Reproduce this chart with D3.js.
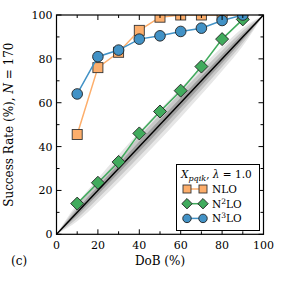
<!DOCTYPE html>
<html><head><meta charset="utf-8">
<script src="https://cdn.jsdelivr.net/npm/d3@7"></script>
<style>body{margin:0;background:#fff}svg{display:block}text{font-family:"DejaVu Serif","Liberation Serif",serif}</style>
</head><body>
<script>
const dob = [10,20,30,40,50,60,70,80,90];
const nlo = [45.5,76,83,93,99,100,100,100,100];
const n2lo = [14,23.5,33,46,56,65.5,76.5,89,98];
const n3lo = [64,81,84,89,90.5,92.5,94,97.5,100];
const bandX = [0,10,20,30,40,50,60,70,80,90,100];
const band1Half = [0,1.4,1.9,2.1,2.3,2.3,2.3,2.1,1.9,1.4,0];
const band2Half = [0,2.8,3.7,4.2,4.5,4.6,4.5,4.2,3.7,2.8,0];
const band3Half = [0,4.1,5.5,6.3,6.7,6.9,6.7,6.3,5.5,4.1,0];
const ticks = [0,20,40,60,80,100];

const W=283,H=283, L=56.5, R=263.5, T=15, B=234.3;
const svg=d3.select("body").append("svg").attr("width",W).attr("height",H);
const x=d3.scaleLinear().domain([0,100]).range([L,R]);
const y=d3.scaleLinear().domain([0,100]).range([B,T]);
svg.append("defs").append("clipPath").attr("id","c").append("rect").attr("x",L).attr("y",T).attr("width",R-L).attr("height",B-T);
const g=svg.append("g").attr("clip-path","url(#c)");
const area=h=>d3.area().x((d,i)=>x(bandX[i])).y0((d,i)=>y(bandX[i]-h[i])).y1((d,i)=>y(bandX[i]+h[i])).curve(d3.curveMonotoneX)(bandX);
g.append("path").attr("d",area(band3Half)).attr("fill","#e6e6e6");
g.append("path").attr("d",area(band2Half)).attr("fill","#c8c8c8");
g.append("path").attr("d",area(band1Half)).attr("fill","#a0a0a0");
g.append("line").attr("x1",x(0)).attr("y1",y(0)).attr("x2",x(100)).attr("y2",y(100)).attr("stroke","#000").attr("stroke-width",1.5);

const series=[
 {name:"NLO",vals:nlo,color:"#fdae6b",line:"#fdae6b",shape:"sq"},
 {name:"N2LO",vals:n2lo,color:"#41ab5d",line:"#41ab5d",shape:"di"},
 {name:"N3LO",vals:n3lo,color:"#4292c6",line:"#4292c6",shape:"ci"}];
function marker(sel,shape,color,cx,cy,k){
  k=k||1;
  if(shape==="sq") sel.append("rect").attr("x",cx-5*k).attr("y",cy-5*k).attr("width",10*k).attr("height",10*k).attr("fill",color).attr("stroke","#333").attr("stroke-width",0.9);
  else if(shape==="di") sel.append("path").attr("d",`M${cx},${cy-6.5*k}L${cx+6.5*k},${cy}L${cx},${cy+6.5*k}L${cx-6.5*k},${cy}Z`).attr("fill",color).attr("stroke","#222").attr("stroke-width",0.9);
  else sel.append("circle").attr("cx",cx).attr("cy",cy).attr("r",5.3*k).attr("fill",color).attr("stroke","#222").attr("stroke-width",0.9);
}
series.forEach(s=>{
  g.append("path").attr("d",d3.line().x((d,i)=>x(dob[i])).y(d=>y(d))(s.vals)).attr("fill","none").attr("stroke",s.line).attr("stroke-width",1.5);
  s.vals.forEach((v,i)=>marker(g,s.shape,s.color,x(dob[i]),y(v)));
});

// axes
const ax=svg.append("g");
ax.append("rect").attr("x",L).attr("y",T).attr("width",R-L).attr("height",B-T).attr("fill","none").attr("stroke","#000").attr("stroke-width",1.2);
const minor=d3.range(0,101,10);
minor.forEach(t=>{
  const len = t%20===0?5:3;
  ax.append("line").attr("x1",x(t)).attr("x2",x(t)).attr("y1",B).attr("y2",B-len).attr("stroke","#000");
  ax.append("line").attr("x1",x(t)).attr("x2",x(t)).attr("y1",T).attr("y2",T+len).attr("stroke","#000");
  ax.append("line").attr("y1",y(t)).attr("y2",y(t)).attr("x1",L).attr("x2",L+len).attr("stroke","#000");
  ax.append("line").attr("y1",y(t)).attr("y2",y(t)).attr("x1",R).attr("x2",R-len).attr("stroke","#000");
});
ticks.forEach(t=>{
  ax.append("text").attr("x",x(t)).attr("y",B+15).attr("text-anchor","middle").attr("font-size",11).text(t);
  ax.append("text").attr("x",L-4).attr("y",y(t)+4).attr("text-anchor","end").attr("font-size",11).text(t);
});
ax.append("text").attr("x",(L+R)/2).attr("y",B+31).attr("text-anchor","middle").attr("font-size",12).text("DoB (%)");
const yl=ax.append("text").attr("transform",`translate(13,${(T+B)/2}) rotate(-90)`).attr("text-anchor","middle").attr("font-size",12);
yl.append("tspan").text("Success Rate (%), ");
yl.append("tspan").attr("font-style","italic").text("N");
yl.append("tspan").text(" = 170");
ax.append("text").attr("x",11).attr("y",265).attr("font-size",12).text("(c)");

// legend
const lg=svg.append("g");
lg.append("rect").attr("x",176.5).attr("y",164.5).attr("width",83).attr("height",66).attr("fill","#fff").attr("stroke","#000").attr("stroke-width",1);
const tt=lg.append("text").attr("x",181).attr("y",178).attr("font-size",10.5);
tt.append("tspan").attr("font-style","italic").text("X");
tt.append("tspan").attr("font-style","italic").attr("font-size",8).attr("dy",2.5).text("pqik");
tt.append("tspan").attr("dy",-2.5).text(", ");
tt.append("tspan").attr("font-style","italic").text("λ");
tt.append("tspan").text(" = 1.0");
const labels=[["NLO",null],["N","2"],["N","3"]];
series.forEach((s,i)=>{
  const yy=189+i*14.7;
  lg.append("line").attr("x1",187).attr("x2",203).attr("y1",yy).attr("y2",yy).attr("stroke",s.line).attr("stroke-width",1.5);
  marker(lg,s.shape,s.color,187,yy,0.8);
  marker(lg,s.shape,s.color,203,yy,0.8);
  const t=lg.append("text").attr("x",212).attr("y",yy+4).attr("font-size",10.5);
  if(i===0) t.text("NLO");
  else {t.append("tspan").text("N");t.append("tspan").attr("font-size",7.5).attr("dy",-4).text(labels[i][1]);t.append("tspan").attr("dy",4).text("LO");}
});
</script>
</body></html>
